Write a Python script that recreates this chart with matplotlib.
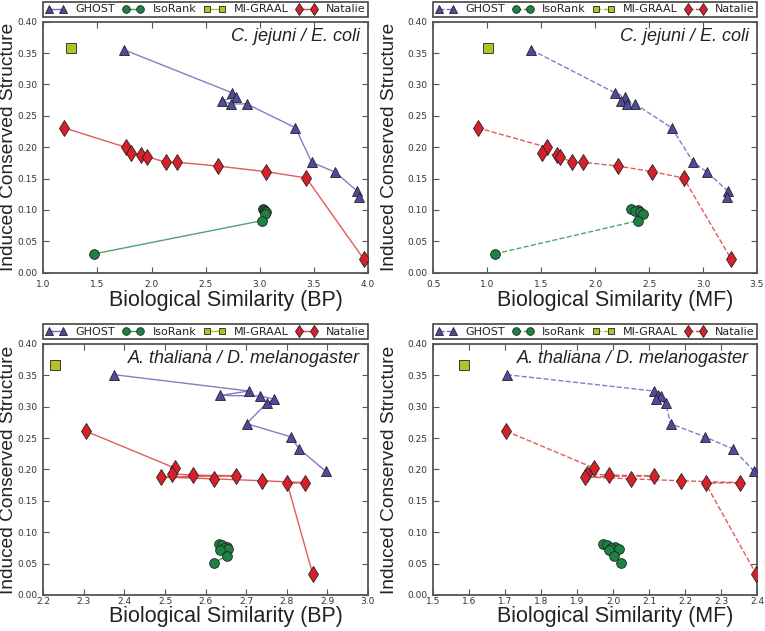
import matplotlib
matplotlib.use("Agg")
import matplotlib.pyplot as plt
from matplotlib.ticker import FormatStrFormatter, MultipleLocator
import logging
logging.getLogger("matplotlib.font_manager").setLevel(logging.ERROR)

# ---------------- data ----------------
methods = ["GHOST", "IsoRank", "MI-GRAAL", "Natalie"]
pair_titles = ["C. jejuni / E. coli", "A. thaliana / D. melanogaster"]

# C. jejuni / E. coli
cj_ghost_bp = [1.75, 2.74, 2.78, 2.65, 2.73, 2.88, 3.33, 3.48, 3.70, 3.90, 3.92]
cj_ghost_mf = [1.41, 2.18, 2.28, 2.24, 2.30, 2.37, 2.71, 2.91, 3.04, 3.23, 3.22]
cj_ghost_ics = [0.355, 0.287, 0.280, 0.274, 0.269, 0.269, 0.231, 0.176, 0.160, 0.130, 0.120]

cj_iso_bp = [3.03, 3.04, 3.05, 3.06, 3.05, 3.02, 1.47]
cj_iso_mf = [2.33, 2.40, 2.37, 2.42, 2.44, 2.40, 1.07]
cj_iso_ics = [0.102, 0.100, 0.098, 0.096, 0.094, 0.083, 0.030]

cj_mig_bp = [1.26]
cj_mig_mf = [1.01]
cj_mig_ics = [0.358]

cj_nat_bp = [1.19, 1.76, 1.81, 1.90, 1.96, 2.13, 2.24, 2.61, 3.06, 3.43, 3.96]
cj_nat_mf = [0.91, 1.55, 1.51, 1.65, 1.67, 1.79, 1.89, 2.21, 2.53, 2.82, 3.26]
cj_nat_ics = [0.231, 0.200, 0.191, 0.187, 0.185, 0.176, 0.176, 0.170, 0.161, 0.151, 0.022]

# A. thaliana / D. melanogaster
at_ghost_bp = [2.375, 2.707, 2.636, 2.735, 2.769, 2.751, 2.701, 2.810, 2.830, 2.896]
at_ghost_mf = [1.705, 2.113, 2.125, 2.132, 2.118, 2.146, 2.160, 2.255, 2.332, 2.393]
at_ghost_ics = [0.351, 0.325, 0.318, 0.317, 0.312, 0.306, 0.273, 0.252, 0.233, 0.197]

at_iso_bp = [2.632, 2.640, 2.652, 2.645, 2.656, 2.635, 2.652, 2.620]
at_iso_mf = [1.971, 1.983, 2.006, 1.994, 2.017, 1.988, 2.002, 2.022]
at_iso_ics = [0.081, 0.079, 0.076, 0.075, 0.073, 0.071, 0.062, 0.051]

at_mig_bp = [2.230]
at_mig_mf = [1.586]
at_mig_ics = [0.367]

at_nat_bp = [2.305, 2.525, 2.516, 2.570, 2.676, 2.490, 2.621, 2.740, 2.846, 2.801, 2.864]
at_nat_mf = [1.703, 1.948, 1.927, 1.988, 2.113, 1.923, 2.051, 2.188, 2.354, 2.257, 2.398]
at_nat_ics = [0.261, 0.202, 0.193, 0.191, 0.190, 0.188, 0.185, 0.182, 0.179, 0.178, 0.033]

# ---------------- style ----------------
colors = {"GHOST": "#4e4b9e", "IsoRank": "#1c8242", "MI-GRAAL": "#b4c12b", "Natalie": "#d8202a"}
line_colors = {"GHOST": "#7370c0", "IsoRank": "#3f9a60", "MI-GRAAL": "#b4c12b", "Natalie": "#e04848"}
markers = {"GHOST": "^", "IsoRank": "o", "MI-GRAAL": "s", "Natalie": "d"}
msizes = {"GHOST": 7.5, "IsoRank": 7, "MI-GRAAL": 6.5, "Natalie": 8}

panels = [
    dict(pos=[0.0566, 0.5678, 0.4244, 0.3978], title=pair_titles[0], xlabel="Biological Similarity (BP)",
         xlim=(1.0, 4.0), xstep=0.5, ls="-", ylab_x=-0.082, xlab_y=-0.067, tpad=5,
         data={"GHOST": (cj_ghost_bp, cj_ghost_ics), "IsoRank": (cj_iso_bp, cj_iso_ics),
               "MI-GRAAL": (cj_mig_bp, cj_mig_ics), "Natalie": (cj_nat_bp, cj_nat_ics)}),
    dict(pos=[0.5664, 0.5678, 0.4231, 0.3978], title=pair_titles[0], xlabel="Biological Similarity (MF)",
         xlim=(0.5, 3.5), xstep=0.5, ls="--", ylab_x=-0.110, xlab_y=-0.067, tpad=5,
         data={"GHOST": (cj_ghost_mf, cj_ghost_ics), "IsoRank": (cj_iso_mf, cj_iso_ics),
               "MI-GRAAL": (cj_mig_mf, cj_mig_ics), "Natalie": (cj_nat_mf, cj_nat_ics)}),
    dict(pos=[0.0566, 0.0571, 0.4244, 0.3978], title=pair_titles[1], xlabel="Biological Similarity (BP)",
         xlim=(2.2, 3.0), xstep=0.1, ls="-", ylab_x=-0.082, xlab_y=-0.044, tpad=1.5,
         data={"GHOST": (at_ghost_bp, at_ghost_ics), "IsoRank": (at_iso_bp, at_iso_ics),
               "MI-GRAAL": (at_mig_bp, at_mig_ics), "Natalie": (at_nat_bp, at_nat_ics)}),
    dict(pos=[0.5664, 0.0571, 0.4231, 0.3978], title=pair_titles[1], xlabel="Biological Similarity (MF)",
         xlim=(1.5, 2.4), xstep=0.1, ls="--", ylab_x=-0.110, xlab_y=-0.044, tpad=1.5,
         data={"GHOST": (at_ghost_mf, at_ghost_ics), "IsoRank": (at_iso_mf, at_iso_ics),
               "MI-GRAAL": (at_mig_mf, at_mig_ics), "Natalie": (at_nat_mf, at_nat_ics)}),
]

fig = plt.figure(figsize=(7.65, 6.31), dpi=100)
label_font = ["Liberation Sans", "DejaVu Sans"]
small_font = ["Liberation Sans Narrow", "DejaVu Sans"]

for p in panels:
    ax = fig.add_axes(p["pos"])
    for m in methods:
        xs, ys = p["data"][m]
        ax.plot(xs, ys, linestyle=p["ls"], color=line_colors[m], lw=1.0, alpha=0.9, zorder=2)
        ax.plot(xs, ys, linestyle="none", marker=markers[m], ms=msizes[m],
                markerfacecolor=colors[m], markeredgecolor="#222222", markeredgewidth=0.6, zorder=3)
    handles = []
    for m in methods:
        h, = ax.plot([], [], linestyle=p["ls"], color=line_colors[m], lw=1.0, marker=markers[m],
                     ms=msizes[m] - 1.5, markerfacecolor=colors[m], markeredgecolor="#222222",
                     markeredgewidth=0.6, label=m)
        handles.append(h)
    leg = ax.legend(handles=handles, loc="lower left", bbox_to_anchor=(0, 1.02, 1, 0.062),
                    mode="expand", ncol=4, borderaxespad=0, numpoints=2,
                    prop={"family": small_font, "size": 8},
                    handlelength=1.9, handletextpad=0.8, columnspacing=0.8, borderpad=0.2,
                    fancybox=False, framealpha=1)
    leg.get_frame().set_edgecolor("#444444")
    leg.get_frame().set_linewidth(1.2)
    for t in leg.get_texts():
        t.set_color("#222222")

    ax.set_xlim(*p["xlim"])
    ax.set_ylim(0, 0.40)
    ax.xaxis.set_major_locator(MultipleLocator(p["xstep"]))
    ax.yaxis.set_major_locator(MultipleLocator(0.05))
    ax.xaxis.set_major_formatter(FormatStrFormatter("%.1f"))
    ax.yaxis.set_major_formatter(FormatStrFormatter("%.2f"))
    ax.tick_params(direction="in", top=True, right=True, length=4, width=0.8,
                   labelsize=6.5, colors="#555555", labelcolor="#333333", pad=4)
    ax.tick_params(axis="x", pad=p["tpad"])
    for lbl in ax.get_xticklabels() + ax.get_yticklabels():
        lbl.set_family(small_font)
    for s in ax.spines.values():
        s.set_color("#555555")
        s.set_linewidth(1.3)
    ax.set_xlabel(p["xlabel"], fontsize=15.5, family=label_font, color="#222222", va="top")
    ax.xaxis.set_label_coords(0.562, p["xlab_y"])
    ax.set_ylabel("Induced Conserved Structure", fontsize=13.8, family=label_font, color="#222222")
    ax.yaxis.set_label_coords(p["ylab_x"], 0.5)
    ax.text(0.975, 0.975, p["title"], transform=ax.transAxes, ha="right", va="top",
            fontsize=13, style="italic", family=label_font, color="#222222")

fig.savefig("out.png", dpi=100)
